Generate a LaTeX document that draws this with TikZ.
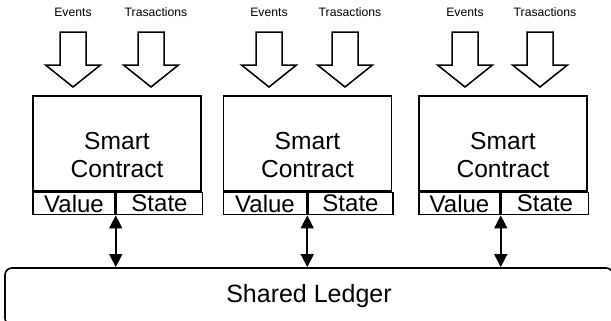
\documentclass[tikz,border=0pt]{standalone}
\usepackage{fontspec}
\setmainfont{Liberation Sans}
\usetikzlibrary{arrows.meta,positioning}

\tikzset{
inarrow/.pic={
  \draw[line width=0.75pt] (0,0) -- (-27.5,-22) -- (-13,-22) -- (-13,-55) -- (13,-55) -- (13,-22) -- (27.5,-22) -- cycle;
  \node[lbl] at (0,-75) {\tikzpictext};
}
}

\begin{document}
\begin{tikzpicture}[
x=0.5pt, y=-0.5pt,
box/.style={draw, line width=0.75pt, minimum width=84pt, minimum height=47.5pt, inner sep=0pt},
txt/.style={align=center, inner sep=0pt, font=\fontsize{12.3}{14}\selectfont},
cell/.style={draw, line width=0.75pt, anchor=north west, minimum height=11pt, inner sep=0pt, font=\fontsize{12}{14}\selectfont},
lbl/.style={inner sep=0pt, font=\fontsize{6.1}{7}\selectfont},
trlbl/.style={lbl/.append style={xshift=2.5pt}},
ledger/.style={draw, line width=0.8pt, rounded corners=3.5pt, minimum width=304pt, minimum height=28.5pt, font=\fontsize{12.5}{14}\selectfont},
link/.style={{Triangle[length=6.5pt,width=6.3pt]}-{Triangle[length=6.5pt,width=6.3pt]}, line width=1.1pt}
]
\useasboundingbox (0,0) rectangle (611,321);
\node[box] (c1) at (117,143.5) {};
\node[txt, yshift=-5.75pt] (t1) at (c1) {Smart\\Contract};
\node[cell, minimum width=41pt] (v1) at (c1.south west) {Value};
\node[cell, minimum width=43pt] (s1) at (v1.north east) {State};
\node[box] (c2) at (307.5,143.5) {};
\node[txt, yshift=-5.75pt] (t2) at (c2) {Smart\\Contract};
\node[cell, minimum width=41.5pt] (v2) at (c2.south west) {Value};
\node[cell, minimum width=42.5pt] (s2) at (v2.north east) {State};
\node[box] (c3) at (503,143.5) {};
\node[txt, yshift=-5.75pt] (t3) at (c3) {Smart\\Contract};
\node[cell, minimum width=40.5pt] (v3) at (c3.south west) {Value};
\node[cell, minimum width=43.5pt] (s3) at (v3.north east) {State};
\node[ledger] (led) at (309,296.5) {Shared Ledger};
\pic[pic text=Events] at (73,87) {inarrow};
\pic[pic text=Trasactions, trlbl] at (151,87) {inarrow};
\pic[pic text=Events] at (269,87) {inarrow};
\pic[pic text=Trasactions, trlbl] at (345,87) {inarrow};
\pic[pic text=Events] at (465,87) {inarrow};
\pic[pic text=Trasactions, trlbl] at (540,87) {inarrow};
\draw[link] (v1.south east) -- (v1.south east |- led.north);
\draw[link] (v2.south east) -- (v2.south east |- led.north);
\draw[link] (v3.south east) -- (v3.south east |- led.north);
\end{tikzpicture}
\end{document}
